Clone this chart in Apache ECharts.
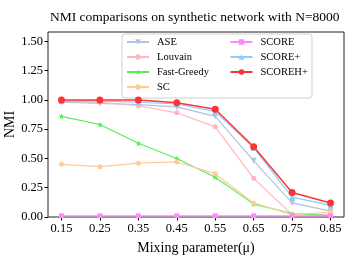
<!DOCTYPE html>
<html><head><meta charset="utf-8">
<script src="https://cdn.jsdelivr.net/npm/echarts@6/dist/echarts.min.js"></script>
<style>html,body{margin:0;padding:0;background:#fff}#c{width:357px;height:268px}</style>
</head><body><div id="c"></div>
<script>
const mu = [0.15, 0.25, 0.35, 0.45, 0.55, 0.65, 0.75, 0.85];
const xTicks = [0.15, 0.25, 0.35, 0.45, 0.55, 0.65, 0.75, 0.85];
const yTicks = [0, 0.25, 0.5, 0.75, 1.0, 1.25, 1.5];
const ase        = [0.98, 0.97, 0.96, 0.94, 0.86, 0.48, 0.12, 0.05];
const louvain    = [0.99, 0.98, 0.95, 0.89, 0.77, 0.33, 0.02, 0.02];
const fastGreedy = [0.86, 0.79, 0.63, 0.50, 0.34, 0.11, 0.03, 0.01];
const sc         = [0.45, 0.43, 0.46, 0.47, 0.37, 0.12, 0.02, 0.04];
const score      = [0.01, 0.01, 0.01, 0.01, 0.01, 0.01, 0.01, 0.01];
const scorePlus  = [0.99, 0.99, 0.98, 0.965, 0.90, 0.59, 0.17, 0.10];
const scoreHPlus = [1.00, 1.00, 1.00, 0.975, 0.92, 0.60, 0.21, 0.12];

const FONT = 'Liberation Serif';
const star = 'path://M0,-10 L2.35,-3.24 L9.51,-3.09 L3.8,1.24 L5.88,8.09 L0,4 L-5.88,8.09 L-3.8,1.24 L-9.51,-3.09 L-2.35,-3.24 Z';
function pairs(arr){ return mu.map((m,i)=>[m, arr[i]]); }
function mk(name, arr, color, symbol, size, extra){
  return Object.assign({
    name, type:'line', data:pairs(arr), symbol, symbolSize:size,
    lineStyle:{color, width:1.2}, itemStyle:{color}, color,
    animation:false, z:2
  }, extra||{});
}
const chart = echarts.init(document.getElementById('c'), null, {renderer:'canvas'});
chart.setOption({
  animation:false,
  textStyle:{fontFamily:FONT},
  title:{text:'NMI comparisons on synthetic network with N=8000', left:50, top:10, padding:0,
    textStyle:{fontFamily:FONT, fontSize:13.5, fontWeight:'normal', color:'#000'}},
  grid:{left:48, right:13, top:32, bottom:51, show:true, borderColor:'#222', borderWidth:1, backgroundColor:'transparent',
    outerBoundsMode:'none', containLabel:false},
  xAxis:{type:'value', min:0.115, max:0.885,
    name:'Mixing parameter(μ)', nameLocation:'middle', nameGap:24, nameMoveOverlap:false,
    nameTextStyle:{fontFamily:FONT, fontSize:14, color:'#000'},
    axisLine:{show:false}, splitLine:{show:false},
    axisTick:{show:true, length:3.5, lineStyle:{color:'#000'}, customValues:xTicks},
    axisLabel:{customValues:xTicks, formatter:v=>v.toFixed(2), fontFamily:FONT, fontSize:12.5, color:'#000', margin:5}},
  yAxis:{type:'value', min:0, max:1.58,
    name:'NMI', nameLocation:'middle', nameGap:31, nameMoveOverlap:false,
    nameTextStyle:{fontFamily:FONT, fontSize:14, color:'#000'},
    axisLine:{show:false}, splitLine:{show:false},
    axisTick:{show:true, length:3.5, lineStyle:{color:'#000'}, customValues:yTicks},
    axisLabel:{customValues:yTicks, formatter:v=>v.toFixed(2), fontFamily:FONT, fontSize:12.5, color:'#000', margin:5}},
  legend:[
    {data:['ASE','Louvain','Fast-Greedy','SC'], orient:'vertical', left:126, top:36, padding:0, itemGap:3,
     itemWidth:22, itemHeight:7, textStyle:{fontFamily:FONT, fontSize:10.5, color:'#000', lineHeight:12, padding:[0,0,0,3]}},
    {data:['SCORE','SCORE+','SCOREH+'], orient:'vertical', left:229.5, top:36, padding:0, itemGap:3,
     itemWidth:22, itemHeight:7, textStyle:{fontFamily:FONT, fontSize:10.5, color:'#000', lineHeight:12, padding:[0,0,0,3]}}
  ],
  graphic:[{type:'rect', shape:{x:122, y:34, width:190, height:64, r:3}, style:{fill:'rgba(255,255,255,0.8)', stroke:'#d0d0d0', lineWidth:1}, z:0}],
  series:[
    mk('ASE', ase, '#b0c4de', 'triangle', 6, {symbolRotate:180}),
    mk('Louvain', louvain, '#ffb6c1', 'circle', 5),
    mk('Fast-Greedy', fastGreedy, '#55ee55', star, 6),
    mk('SC', sc, '#ffcc99', 'circle', 5),
    mk('SCORE', score, '#ff88ff', 'rect', 5),
    mk('SCORE+', scorePlus, '#87cefa', 'triangle', 6),
    mk('SCOREH+', scoreHPlus, '#ff3333', 'circle', 7, {lineStyle:{color:'#ff3333', width:1.5}})
  ]
});
</script></body></html>
